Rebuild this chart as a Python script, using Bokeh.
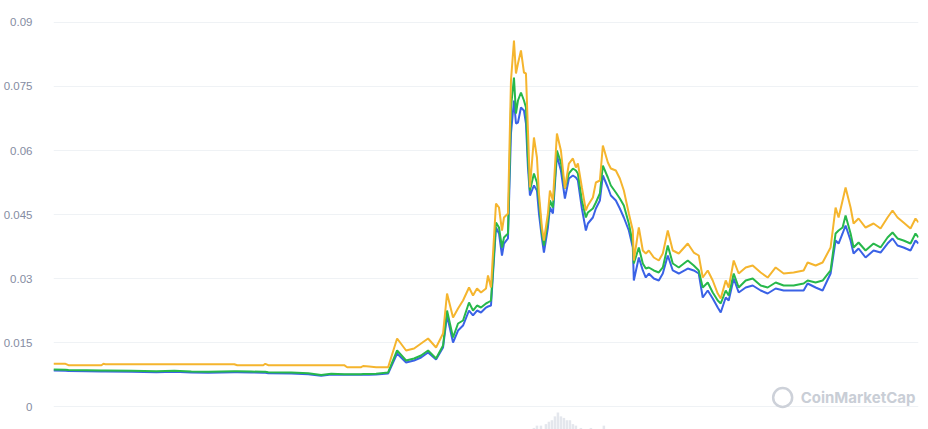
from bokeh.plotting import figure
from bokeh.models import Range1d, FixedTicker
from bokeh.embed import file_html
from bokeh.resources import INLINE
from bokeh.core.properties import value

# ---- data (day index since start, prices in USD) ----
days = [0, 12, 15, 33, 48, 50, 52, 78, 103, 121, 138, 155, 168, 181, 184, 198, 210, 212, 215, 238,
        255, 268, 278, 291, 294, 308, 310, 316, 323, 335,
        344, 353, 361, 368, 375, 383, 390, 394, 400, 405, 410, 416, 420, 424, 428, 433, 435, 438,
        443, 446, 449, 451, 455, 458, 461, 463, 465, 468, 471, 473, 475, 477, 481, 484, 486, 489,
        491, 495, 497, 500, 504, 508, 512, 516, 520, 523, 525, 529, 533, 535, 540, 543, 547, 550,
        555, 558, 563, 567, 571, 576, 580, 581, 586, 590, 593, 596, 601, 606, 610, 615, 620, 626,
        635, 641, 646, 650, 655, 660, 665, 668, 673, 676, 681, 686, 693, 700, 708, 715, 723, 731,
        741, 751, 755, 763, 770, 778, 783, 786, 790, 793, 798, 801, 806, 813, 821, 828, 835, 840,
        845, 851, 858, 863, 866]

price_usd = [0.01001, 0.01001, 0.00968, 0.00968, 0.00968, 0.01001, 0.00991, 0.00991, 0.00991, 0.00991,
             0.00991, 0.00991, 0.00991, 0.00991, 0.00968, 0.00968, 0.00968, 0.01001, 0.00968, 0.00968,
             0.00968, 0.00968, 0.00968, 0.00968, 0.00921, 0.00921, 0.00949, 0.00938, 0.00921, 0.00921,
             0.01594, 0.01313, 0.01359, 0.01477, 0.01594, 0.01383, 0.01711, 0.02648, 0.02086, 0.02297,
             0.02484, 0.02789, 0.02602, 0.02766, 0.02672, 0.02766, 0.03070, 0.02789,
             0.04758, 0.04664, 0.04125, 0.04430, 0.04523, 0.07641, 0.08578, 0.07805, 0.08039, 0.08344,
             0.07828, 0.07805, 0.06469, 0.05133, 0.06305, 0.05836, 0.04992, 0.04195,
             0.03891, 0.04523, 0.05063, 0.04828, 0.06398, 0.06000, 0.05109, 0.05695, 0.05813, 0.05602,
             0.05695, 0.05133, 0.04594, 0.04711, 0.04898, 0.05250, 0.05297, 0.06117,
             0.05719, 0.05578, 0.05531, 0.05344, 0.05063, 0.04523, 0.04125, 0.03422, 0.04195, 0.03656,
             0.03586, 0.03656, 0.03492, 0.03422, 0.03586, 0.04125, 0.03656, 0.03586,
             0.03820, 0.03609, 0.03539, 0.03023, 0.03188, 0.02953, 0.02648, 0.02531, 0.02953, 0.02789,
             0.03422, 0.03117, 0.03258, 0.03305, 0.03141, 0.03023, 0.03258, 0.03117,
             0.03141, 0.03188, 0.03375, 0.03305, 0.03375, 0.03727, 0.04664, 0.04430, 0.04828, 0.05133,
             0.04664, 0.04289, 0.04406, 0.04195, 0.04289, 0.04172, 0.04430, 0.04594,
             0.04430, 0.04313, 0.04172, 0.04406, 0.04313]

price_green = [0.00867, 0.00860, 0.00855, 0.00851, 0.00844, 0.00844, 0.00844, 0.00837, 0.00827, 0.00837,
               0.00820, 0.00813, 0.00820, 0.00827, 0.00827, 0.00820, 0.00813, 0.00813, 0.00804, 0.00797,
               0.00780, 0.00738, 0.00766, 0.00757, 0.00757, 0.00757, 0.00762, 0.00762, 0.00766, 0.00797,
               0.01313, 0.01078, 0.01125, 0.01195, 0.01313, 0.01125, 0.01430, 0.02250, 0.01617, 0.01945,
               0.02016, 0.02438, 0.02250, 0.02367, 0.02320, 0.02414, 0.02438, 0.02484,
               0.04313, 0.04195, 0.03727, 0.03961, 0.04055, 0.07008, 0.07711, 0.06867, 0.07172, 0.07359,
               0.07172, 0.07008, 0.05836, 0.05063, 0.05461, 0.05250, 0.04828, 0.04055,
               0.03773, 0.04359, 0.04828, 0.04664, 0.06000, 0.05719, 0.05109, 0.05461, 0.05578, 0.05531,
               0.05461, 0.04828, 0.04430, 0.04547, 0.04641, 0.04781, 0.04992, 0.05648,
               0.05367, 0.05180, 0.05016, 0.04875, 0.04711, 0.04289, 0.03820, 0.03352, 0.03727, 0.03352,
               0.03234, 0.03258, 0.03188, 0.03141, 0.03258, 0.03773, 0.03352, 0.03258,
               0.03422, 0.03305, 0.03188, 0.02789, 0.02906, 0.02672, 0.02484, 0.02414, 0.02719, 0.02602,
               0.03117, 0.02789, 0.02953, 0.03000, 0.02836, 0.02789, 0.02906, 0.02836,
               0.02836, 0.02883, 0.02953, 0.02906, 0.02953, 0.03188, 0.04055, 0.04125, 0.04195, 0.04477,
               0.04055, 0.03727, 0.03844, 0.03656, 0.03820, 0.03727, 0.03961, 0.04078,
               0.03938, 0.03891, 0.03820, 0.04055, 0.03961]

price_blue = [0.00844, 0.00837, 0.00832, 0.00827, 0.00820, 0.00820, 0.00820, 0.00813, 0.00804, 0.00813,
              0.00797, 0.00790, 0.00797, 0.00804, 0.00804, 0.00797, 0.00790, 0.00790, 0.00780, 0.00773,
              0.00757, 0.00720, 0.00750, 0.00743, 0.00743, 0.00743, 0.00745, 0.00745, 0.00750, 0.00773,
              0.01242, 0.01031, 0.01078, 0.01148, 0.01266, 0.01102, 0.01383, 0.02133, 0.01500, 0.01781,
              0.01898, 0.02250, 0.02133, 0.02250, 0.02203, 0.02320, 0.02344, 0.02367,
              0.04195, 0.04055, 0.03539, 0.03820, 0.03938, 0.06398, 0.07172, 0.06633, 0.06656, 0.07008,
              0.06938, 0.06633, 0.05602, 0.04945, 0.05180, 0.05063, 0.04523, 0.03938,
              0.03609, 0.04195, 0.04664, 0.04523, 0.05883, 0.05531, 0.04875, 0.05344, 0.05414, 0.05367,
              0.05297, 0.04641, 0.04125, 0.04289, 0.04430, 0.04641, 0.04828, 0.05414,
              0.05133, 0.04945, 0.04828, 0.04641, 0.04430, 0.04125, 0.03727, 0.02953, 0.03492, 0.03188,
              0.03023, 0.03117, 0.03000, 0.02953, 0.03117, 0.03539, 0.03188, 0.03117,
              0.03234, 0.03188, 0.03117, 0.02555, 0.02719, 0.02531, 0.02320, 0.02203, 0.02555, 0.02484,
              0.03000, 0.02672, 0.02789, 0.02836, 0.02719, 0.02648, 0.02766, 0.02719,
              0.02719, 0.02719, 0.02883, 0.02789, 0.02719, 0.03117, 0.03891, 0.03820, 0.04055, 0.04242,
              0.03891, 0.03586, 0.03703, 0.03492, 0.03656, 0.03609, 0.03820, 0.03938,
              0.03773, 0.03727, 0.03656, 0.03891, 0.03820]

vol_days = [481, 484, 488, 493, 496, 499, 502, 505, 508, 511, 514, 517, 520, 523, 528, 538, 551]
volume = [2, 5, 5, 7, 10, 12, 17, 22, 17, 15, 12, 12, 7, 5, 2, 2, 5]

y_ticks = [0, 0.015, 0.03, 0.045, 0.06, 0.075, 0.09]
y_tick_labels = ["0", "0.015", "0.03", "0.045", "0.06", "0.075", "0.09"]

watermark = "CoinMarketCap"

p = figure(width=928, height=429, output_backend="svg", toolbar_location=None,
           x_range=Range1d(0, 866), y_range=Range1d(-0.00539, 0.095156),
           x_axis_location=None, min_border_left=52, min_border_right=10,
           min_border_top=0, min_border_bottom=0)
p.outline_line_color = None
p.background_fill_color = "white"
p.border_fill_color = "white"

p.xgrid.visible = False
p.ygrid.grid_line_color = "#eff2f5"
p.ygrid.grid_line_width = 1
p.yaxis.ticker = FixedTicker(ticks=y_ticks)
p.yaxis.major_label_overrides = {t: l for t, l in zip(y_ticks, y_tick_labels)}
p.yaxis.axis_line_color = None
p.yaxis.major_tick_line_color = None
p.yaxis.minor_tick_line_color = None
p.yaxis.major_label_text_color = "#858ca2"
p.yaxis.major_label_text_font = "Liberation Sans"
p.yaxis.major_label_text_font_size = "11.5px"
p.yaxis.major_label_standoff = 15

# volume (faint) on its own range
p.extra_y_ranges = {"vol": Range1d(0, 555)}
p.vbar(x=vol_days, top=volume, width=2.5, y_range_name="vol",
       fill_color="#dde1e8", line_color=None, fill_alpha=0.8)

p.line(days, price_blue, line_color="#3a62e6", line_width=2)
p.line(days, price_green, line_color="#27b84b", line_width=2)
p.line(days, price_usd, line_color="#f5b52e", line_width=2)

# watermark
p.scatter([730], [0.00211], marker="circle", size=19, fill_color=None,
          line_color="#cdd1d9", line_width=2.5)
p.text([748], [0.00211], text=[watermark], text_font=value("Inter"),
       text_font_size="15px", text_font_style="bold", text_color="#c9ced6",
       text_baseline="middle", text_align="left")

open("out.html", "w").write(file_html(p, INLINE))
